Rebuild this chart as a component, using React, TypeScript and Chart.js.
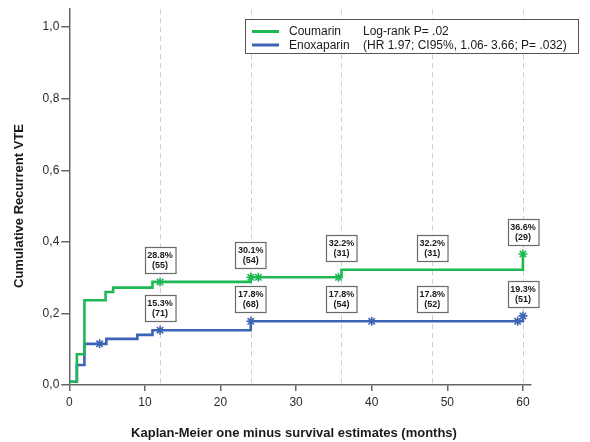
import React, { useEffect, useRef } from "react";
import { Chart, registerables } from "chart.js";

Chart.register(...registerables);

// ---- data ----
const coumarinTimes = [0, 1, 2, 4.8, 5.8, 11, 24, 36, 60];
const coumarinValues = [0.009, 0.086, 0.237, 0.26, 0.272, 0.288, 0.301, 0.322, 0.366];
const enoxaparinTimes = [0, 1, 2, 4.9, 9, 11, 24, 60];
const enoxaparinValues = [0.009, 0.056, 0.115, 0.129, 0.14, 0.153, 0.178, 0.193];
const coumarinCensored = [12, 24, 25, 35.6, 60];
const enoxaparinCensored = [4, 12, 24, 40, 59.3, 60];

const labelMonths = [12, 24, 36, 48, 60];
const coumarinPct = ["28.8%", "30.1%", "32.2%", "32.2%", "36.6%"];
const coumarinN = ["(55)", "(54)", "(31)", "(31)", "(29)"];
const enoxaparinPct = ["15.3%", "17.8%", "17.8%", "17.8%", "19.3%"];
const enoxaparinN = ["(71)", "(68)", "(54)", "(52)", "(51)"];

const xTicks = [0, 10, 20, 30, 40, 50, 60];
const yTicks = [0, 0.2, 0.4, 0.6, 0.8, 1.0];
const gridMonths = [12, 24, 36, 48, 60];

const seriesNames = ["Coumarin", "Enoxaparin"];
const legendNotes = ["Log-rank P= .02", "(HR 1.97; CI95%, 1.06- 3.66; P= .032)"];
const xTitle = "Kaplan-Meier one minus survival estimates (months)";
const yTitle = "Cumulative Recurrent VTE";

// ---- styles ----
const GREEN = "#1eb854";
const BLUE = "#3c64b4";
const FONT = "'Liberation Sans', Arial, Helvetica, sans-serif";
const AXIS = "#666666";

function stepValue(times: number[], values: number[], t: number) {
  let v = values[0];
  for (let i = 0; i < times.length; i++) if (times[i] <= t) v = values[i];
  return v;
}

const overlayPlugin = {
  id: "kmOverlay",
  beforeDatasetsDraw(chart: any) {
    const { ctx, chartArea, scales } = chart;
    ctx.save();
    ctx.strokeStyle = "#cfcfcf";
    ctx.lineWidth = 1;
    ctx.setLineDash([5, 4]);
    gridMonths.forEach((m) => {
      const x = Math.round(scales.x.getPixelForValue(m)) + 0.5;
      ctx.beginPath();
      ctx.moveTo(x, chartArea.top);
      ctx.lineTo(x, chartArea.bottom);
      ctx.stroke();
    });
    ctx.restore();
  },
  afterDatasetsDraw(chart: any) {
    const { ctx, scales } = chart;
    ctx.save();
    // number-at-risk boxes
    const drawBox = (month: number, pct: string, n: string) => {
      const v = parseFloat(pct) / 100;
      const cx = scales.x.getPixelForValue(month);
      const bottom = scales.y.getPixelForValue(v) - 9;
      const h = 26;
      ctx.font = `bold 9px ${FONT}`;
      const w = Math.max(ctx.measureText(pct).width, ctx.measureText(n).width) + 5;
      const left = Math.round(cx - w / 2) + 0.5;
      const top = Math.round(bottom - h) + 0.5;
      ctx.fillStyle = "#ffffff";
      ctx.fillRect(left, top, w, h);
      ctx.strokeStyle = "#6a6a6a";
      ctx.lineWidth = 1.2;
      ctx.strokeRect(left, top, w, h);
      ctx.fillStyle = "#1a1a1a";
      ctx.textAlign = "center";
      ctx.textBaseline = "middle";
      ctx.fillText(pct, cx, top + 8.5);
      ctx.fillText(n, cx, top + 18.5);
    };
    labelMonths.forEach((m, i) => {
      drawBox(m, coumarinPct[i], coumarinN[i]);
      drawBox(m, enoxaparinPct[i], enoxaparinN[i]);
    });

    // legend
    const lx = 245.5, ly = 19.5, lw = 333, lh = 34;
    ctx.fillStyle = "#ffffff";
    ctx.fillRect(lx, ly, lw, lh);
    ctx.strokeStyle = "#555555";
    ctx.lineWidth = 1;
    ctx.strokeRect(lx, ly, lw, lh);
    const rows = [31.5, 45];
    const colors = [GREEN, BLUE];
    ctx.font = `12px ${FONT}`;
    ctx.textAlign = "left";
    ctx.textBaseline = "middle";
    rows.forEach((y, i) => {
      ctx.strokeStyle = colors[i];
      ctx.lineWidth = 3;
      ctx.beginPath();
      ctx.moveTo(252, y);
      ctx.lineTo(279, y);
      ctx.stroke();
      ctx.fillStyle = "#1a1a1a";
      ctx.fillText(seriesNames[i], 289, y + 0.5);
      ctx.fillText(legendNotes[i], 363, y + 0.5);
    });

    // axis titles
    ctx.fillStyle = "#1a1a1a";
    ctx.font = `bold 13px ${FONT}`;
    ctx.textAlign = "center";
    ctx.textBaseline = "middle";
    ctx.fillText(xTitle, 294, 433);
    ctx.translate(19.5, 206);
    ctx.rotate(-Math.PI / 2);
    ctx.fillText(yTitle, 0, 0);
    ctx.restore();
  },
};

export default function App() {
  const ref = useRef<HTMLCanvasElement | null>(null);
  useEffect(() => {
    document.body.style.margin = "0";
    const canvas = ref.current!;
    const chart = new Chart(canvas, {
      type: "line",
      data: {
        datasets: [
          {
            label: seriesNames[0] + " censored",
            data: coumarinCensored.map((t) => ({ x: t, y: stepValue(coumarinTimes, coumarinValues, t) })),
            showLine: false,
            pointStyle: "star",
            pointRadius: 4.5,
            pointBorderWidth: 1.6,
            borderColor: GREEN,
            backgroundColor: GREEN,
            order: 0,
          } as any,
          {
            label: seriesNames[1] + " censored",
            data: enoxaparinCensored.map((t) => ({ x: t, y: stepValue(enoxaparinTimes, enoxaparinValues, t) })),
            showLine: false,
            pointStyle: "star",
            pointRadius: 4.5,
            pointBorderWidth: 1.6,
            borderColor: BLUE,
            backgroundColor: BLUE,
            order: 0,
          } as any,
          {
            label: seriesNames[0],
            data: coumarinTimes.map((t, i) => ({ x: t, y: coumarinValues[i] })),
            stepped: "before",
            borderColor: GREEN,
            borderWidth: 2.6,
            pointRadius: 0,
            fill: false,
            order: 1,
          } as any,
          {
            label: seriesNames[1],
            data: enoxaparinTimes.map((t, i) => ({ x: t, y: enoxaparinValues[i] })),
            stepped: "before",
            borderColor: BLUE,
            borderWidth: 2.6,
            pointRadius: 0,
            fill: false,
            order: 2,
          } as any,
        ],
      },
      options: {
        responsive: false,
        animation: false,
        devicePixelRatio: 1,
        layout: { padding: { top: 8.6, right: 59.5, left: 0, bottom: 0 } },
        plugins: { legend: { display: false }, tooltip: { enabled: false } },
        scales: {
          x: {
            type: "linear",
            min: 0,
            max: 61,
            afterBuildTicks: (s: any) => {
              s.ticks = xTicks.map((v) => ({ value: v }));
            },
            afterFit: (s: any) => {
              s.height = 57;
            },
            grid: { drawOnChartArea: false, drawTicks: true, tickLength: 6, color: AXIS, lineWidth: 1.5 },
            border: { color: AXIS, width: 1.5 },
            ticks: { font: { family: FONT, size: 12 }, color: "#2a2a2a", padding: 4, maxRotation: 0 },
          },
          y: {
            type: "linear",
            min: 0,
            max: 1.05,
            afterBuildTicks: (s: any) => {
              s.ticks = yTicks.map((v) => ({ value: v }));
            },
            afterFit: (s: any) => {
              s.width = 69.3;
            },
            grid: { drawOnChartArea: false, drawTicks: true, tickLength: 8, color: AXIS, lineWidth: 1.5 },
            border: { color: AXIS, width: 1.5 },
            ticks: {
              font: { family: FONT, size: 12 },
              color: "#2a2a2a",
              padding: 2,
              callback: (v: any) => Number(v).toFixed(1).replace(".", ","),
            },
          },
        },
      },
      plugins: [overlayPlugin],
    });
    return () => chart.destroy();
  }, []);
  return (
    <div style={{ width: 590, height: 442, background: "#ffffff" }}>
      <canvas ref={ref} width={590} height={442} style={{ display: "block" }} />
    </div>
  );
}
